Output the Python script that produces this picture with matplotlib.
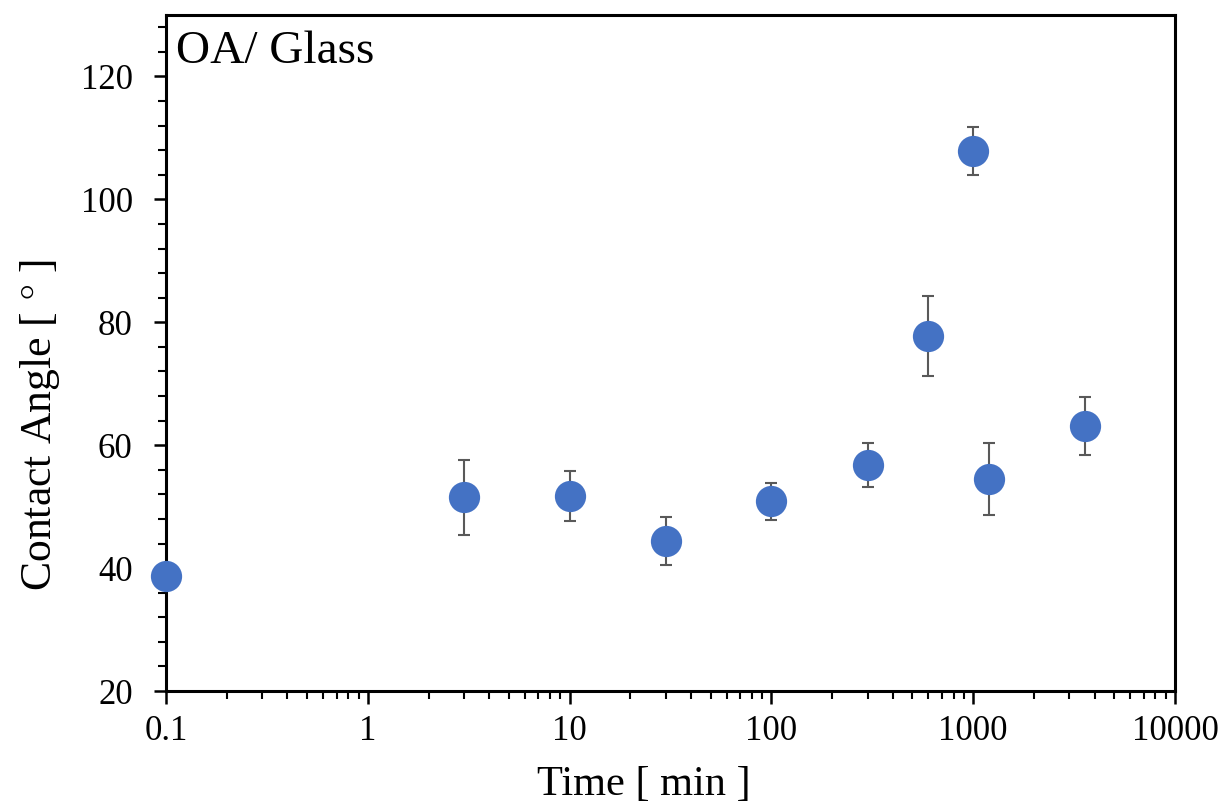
import numpy as np
import matplotlib
matplotlib.use("Agg")
import matplotlib.pyplot as plt
from matplotlib.ticker import LogLocator, MultipleLocator, FixedLocator, FixedFormatter

plt.rcParams['font.family'] = ['Liberation Serif', 'DejaVu Serif']
plt.rcParams['mathtext.fontset'] = 'stix'

# contact angle vs immersion time
time_min = [0.1, 3, 10, 30, 100, 300, 600, 1000, 1200, 3600]
angle = [38.7, 51.5, 51.7, 44.4, 50.9, 56.8, 77.8, 107.8, 54.5, 63.1]
angle_err = [0.0, 6.1, 4.1, 3.9, 3.0, 3.6, 6.5, 3.9, 5.9, 4.7]

xtick_vals = [0.1, 1, 10, 100, 1000, 10000]
xtick_labels = ['0.1', '1', '10', '100', '1000', '10000']

fig = plt.figure(figsize=(12.25, 8.02), dpi=100)
ax = fig.add_axes([0.1355, 0.1384, 0.8237, 0.8429])

ax.errorbar(time_min, angle, yerr=angle_err, fmt='none', ecolor='#595959',
            elinewidth=1.5, capsize=4.3, capthick=1.5, zorder=2)
ax.plot(time_min, angle, 'o', color='#4472C4', markersize=22.5,
        markeredgewidth=0, zorder=3, clip_on=False)

ax.set_xscale('log')
ax.set_xlim(0.1, 10000)
ax.set_ylim(20, 130)

ax.xaxis.set_major_locator(FixedLocator(xtick_vals))
ax.xaxis.set_major_formatter(FixedFormatter(xtick_labels))
ax.xaxis.set_minor_locator(LogLocator(base=10, subs=np.arange(2, 10), numticks=20))
ax.yaxis.set_major_locator(FixedLocator([20, 40, 60, 80, 100, 120]))
ax.yaxis.set_minor_locator(MultipleLocator(4))

for s in ax.spines.values():
    s.set_linewidth(2.2)
ax.tick_params(which='major', direction='out', length=9, width=1.8, labelsize=25, pad=8)
ax.tick_params(which='minor', direction='out', length=6, width=1.5)
ax.tick_params(axis='y', which='major', pad=15)

ax.set_xlabel('Time [ min ]', fontsize=30.5)
ax.set_ylabel('Contact Angle [ $\\degree$ ]', fontsize=31.5)
ax.xaxis.set_label_coords(0.474, -0.110)
ax.yaxis.set_label_coords(-0.103, 0.393)

ax.text(0.01, 0.929, 'OA/ Glass', transform=ax.transAxes, fontsize=34,
        ha='left', va='baseline')

fig.savefig('out.png', dpi=100)
